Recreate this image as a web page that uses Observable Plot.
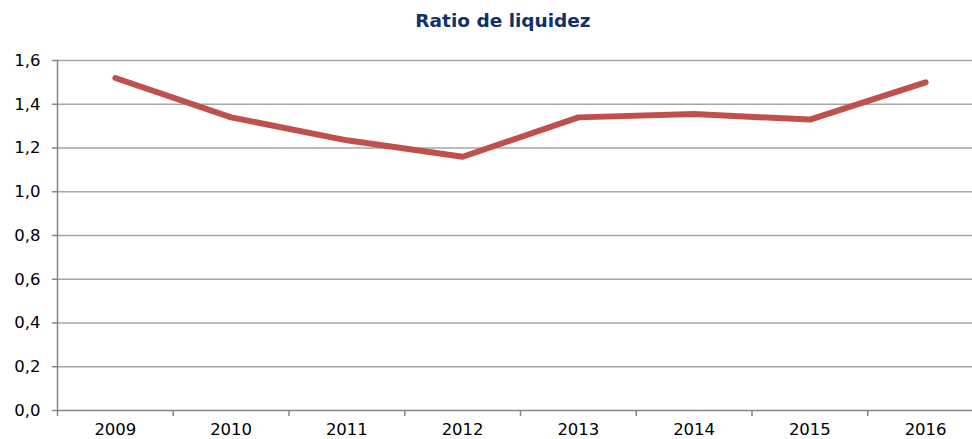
<!DOCTYPE html>
<html>
<head>
<meta charset="utf-8">
<script src="https://cdn.jsdelivr.net/npm/d3@7"></script>
<script src="https://cdn.jsdelivr.net/npm/@observablehq/plot@0.6"></script>
<style>
  html, body { margin: 0; padding: 0; background: #fff; }
  #wrap { position: relative; width: 972px; height: 439px; overflow: hidden; font-family: "DejaVu Sans", Verdana, sans-serif; }
  #title { position: absolute; top: 10px; left: 503px; transform: translateX(-50%); white-space: nowrap;
           font-weight: bold; font-size: 18.5px; color: #13306b; }
  #chart { position: absolute; top: 45px; left: 0; }
</style>
</head>
<body>
<div id="wrap">
  <div id="title">Ratio de liquidez</div>
  <div id="chart"></div>
</div>
<script>
const years = [2009, 2010, 2011, 2012, 2013, 2014, 2015, 2016];
const ratio = [1.52, 1.34, 1.235, 1.16, 1.34, 1.355, 1.33, 1.50];
const yTicks = [0, 0.2, 0.4, 0.6, 0.8, 1.0, 1.2, 1.4, 1.6];

const data = years.map((y, i) => ({year: y, value: ratio[i]}));
const boundaries = years.map(y => y - 0.5).concat([years[years.length - 1] + 0.5]);
const fmt = d => d3.format(".1f")(d).replace(".", ",");

const chart = Plot.plot({
  width: 972,
  height: 394,
  marginLeft: 57,
  marginRight: 0,
  marginTop: 15,
  marginBottom: 29,
  style: {fontFamily: "DejaVu Sans, Verdana, sans-serif", fontSize: "16.5px", color: "#000", background: "#fff"},
  x: {domain: [years[0] - 0.5, years[years.length - 1] + 0.5], range: [57, 983]},
  y: {domain: [0, 1.6]},
  marks: [
    Plot.ruleY(yTicks.slice(1), {stroke: "#a6a6a6", strokeWidth: 1.5}),
    Plot.ruleY([0], {stroke: "#868686", strokeWidth: 1.5}),
    Plot.frame({anchor: "left", stroke: "#868686", strokeWidth: 1.5}),
    Plot.axisX({ticks: boundaries, tickSize: 6, tickFormat: () => "", label: null, stroke: "#868686", strokeWidth: 1.5}),
    Plot.axisX({ticks: years, tickSize: 0, tickPadding: 13, tickFormat: d => String(d), label: null, fill: "#000"}),
    Plot.axisY({ticks: yTicks, tickSize: 5, tickPadding: 12, tickFormat: fmt, label: null, stroke: "#868686", strokeWidth: 1.5, fill: "#000"}),
    Plot.line(data, {x: "year", y: "value", stroke: "#c0504d", strokeWidth: 6, strokeLinecap: "round", strokeLinejoin: "round"})
  ]
});
document.getElementById("chart").appendChild(chart);
</script>
</body>
</html>
